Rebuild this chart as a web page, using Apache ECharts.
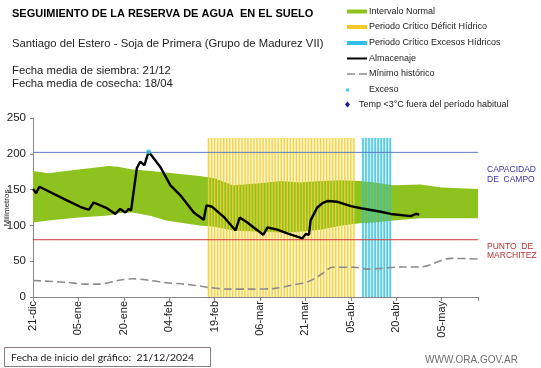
<!DOCTYPE html>
<html><head><meta charset="utf-8">
<script src="https://cdn.jsdelivr.net/npm/echarts@6/dist/echarts.min.js"></script>
<style>html,body{margin:0;padding:0;background:#fff}#c{width:541px;height:368px}</style>
</head><body><div id="c"></div>
<script>
// ---- data (x = days since 21-dic-2024) ----
const tickLabels = ['21-dic','05-ene','20-ene','04-feb','19-feb','06-mar','21-mar','05-abr','20-abr','05-may'];
const bandDays = [0,5,15,25,28,33,39,44,50,55,60,66,75,82,88,95,102,108,113,119,128,135,147];
const bandHigh = [176,173,178,183,182,178,176,174,171,169,166,156,159,162,160,162,163,162,160,156,157,153,151];
const bandLow  = [104,107,111,114,117,118,113,107,103,100,98,93,91,90,91,94,100,103,104,107,110,110,110];
const almaDays = [0,1,2.1,11.2,15.6,17.5,18.5,20,24.4,27.2,27.7,28.8,30.5,31.6,32.4,33,34.3,35.4,36.8,38.2,42,45.4,48.7,53.1,56.4,57.3,59.2,63,66.9,68.3,70.8,72.9,76.1,77.4,80.7,84,89,90.1,91.2,91.7,93.9,95.6,97.3,100.6,105,108.3,114.9,118.2,124.8,126.5,127.6];
const almaVals = [151,145,154,135,126,123,122,132,124,116,115,123,118,123,121,122,180,189,184,203,182,156,142,118,108,128,126,112,93,111,104,97,87,97,94,89,82,88,87,107,125,131,134,133,127,124,119,116,113,116,115];
const minDays = [0,11,17,22,28,33,39,44,50,55,57.5,65,71,80,86,91,95,99,106,110.5,115,121.5,128,138,147];
const minVals = [23,20.5,18,18,23,25.5,23,20,18,15.5,13.5,11,11,12,17,21.5,31,41.5,41.5,39,40,42,42,54,53];
const excesoDays = [38.2];
const excesoVals = [203];
const deficitDays = [58,59,60,61,62,63,64,65,66,67,68,69,70,71,72,73,74,75,76,77,78,79,80,81,82,83,84,85,86,87,88,89,90,91,92,93,94,95,96,97,98,99,100,101,102,103,104,105,106];
const excesoPerDays = [109,110,111,112,113,114,115,116,117,118];
const periodTop = 222;
const capacidadCampo = 202;
const puntoMarchitez = 80;
const axisEnd = 147;
const fechaInicio = '21/12/2024';

const pair = (xs, ys) => xs.map((x, i) => [x, ys[i]]);
const chart = echarts.init(document.getElementById('c'), null, {renderer: 'canvas'});
const F = 'Liberation Sans, Arial, sans-serif';
const lx = 347, tx = 369;
const rows = [11.5, 27, 43, 58.5, 74, 89.5, 104.5];
const txt = (x, y, s, font, fill) => ({type: 'text', style: {x: x, y: y, text: s, font: font, fill: fill, verticalAlign: 'middle', align: 'left'}});
const legText = (x, y, s) => txt(x, y, s, '9px ' + F, '#222');

function bandRender(params, api) {
  if (params.dataIndex !== 0) return null;
  const up = bandDays.map((d, i) => api.coord([d, bandHigh[i]]));
  const lo = bandDays.map((d, i) => api.coord([d, bandLow[i]])).reverse();
  return {type: 'polygon', shape: {points: up.concat(lo)}, style: {fill: '#8DC21F'}, silent: true};
}

chart.setOption({
  animation: false,
  grid: {left: 33, right: 63, top: 118, bottom: 71, containLabel: false, outerBoundsMode: 'none'},
  xAxis: {
    type: 'value', min: 0, max: axisEnd, interval: 15,
    axisLine: {lineStyle: {color: '#868686'}},
    axisTick: {show: true, length: 4, lineStyle: {color: '#868686'}},
    splitLine: {show: false},
    axisLabel: {rotate: 90, margin: 4, fontSize: 11, fontFamily: F, color: '#222',
      formatter: v => tickLabels[Math.round(v / 15)] || ''}
  },
  yAxis: {
    type: 'value', min: 0, max: 250, interval: 50,
    axisLine: {show: true, lineStyle: {color: '#868686'}},
    axisTick: {show: true, length: 3, lineStyle: {color: '#868686'}},
    splitLine: {show: false},
    axisLabel: {fontSize: 11.5, fontFamily: F, color: '#222', margin: 7}
  },
  series: [
    {type: 'custom', renderItem: bandRender, data: bandDays.map((d, i) => [d, bandLow[i], bandHigh[i]]),
     encode: {x: 0, y: [1, 2]}, z: 1, silent: true},
    {type: 'bar', data: deficitDays.map(d => [d, periodTop]), barWidth: 1.4, barGap: '-100%',
     itemStyle: {color: '#F2CF3A', opacity: 0.9}, z: 3,
     markArea: {silent: true, itemStyle: {color: 'rgba(250,232,150,0.45)'},
       data: [[{xAxis: deficitDays[0] - 0.5, yAxis: 0}, {xAxis: deficitDays[deficitDays.length - 1] + 0.5, yAxis: periodTop}]]}},
    {type: 'bar', data: excesoPerDays.map(d => [d, periodTop]), barWidth: 1.4, barGap: '-100%',
     itemStyle: {color: '#2FC0DD', opacity: 0.9}, z: 3,
     markArea: {silent: true, itemStyle: {color: 'rgba(170,225,240,0.5)'},
       data: [[{xAxis: excesoPerDays[0] - 0.5, yAxis: 0}, {xAxis: excesoPerDays[excesoPerDays.length - 1] + 0.5, yAxis: periodTop}]]}},
    {type: 'line', data: [[0, puntoMarchitez], [axisEnd, puntoMarchitez]], symbol: 'none', z: 5, silent: true,
     lineStyle: {color: '#D03A3A', width: 1}},
    {type: 'line', data: [[0, capacidadCampo], [axisEnd, capacidadCampo]], symbol: 'none', z: 5, silent: true,
     lineStyle: {color: '#5B7FC0', width: 1}},
    {type: 'line', data: pair(minDays, minVals), symbol: 'none', smooth: 0.3, z: 4,
     lineStyle: {color: '#8C8C8C', width: 1.6, type: [8, 4]}},
    {type: 'line', data: pair(almaDays, almaVals), symbol: 'none', z: 6,
     lineStyle: {color: '#000', width: 2.4}},
    {type: 'scatter', data: pair(excesoDays, excesoVals), symbol: 'circle', symbolSize: 5,
     itemStyle: {color: '#3CCBEA'}, z: 7}
  ],
  graphic: [
    txt(12, 14, 'SEGUIMIENTO DE LA RESERVA DE AGUA  EN EL SUELO', 'bold 11px ' + F, '#000'),
    txt(12, 44, 'Santiago del Estero - Soja de Primera (Grupo de Madurez VII)', '11.3px ' + F, '#222'),
    txt(12, 71, 'Fecha media de siembra: 21/12', '11.3px ' + F, '#222'),
    txt(12, 83.5, 'Fecha media de cosecha: 18/04', '11.3px ' + F, '#222'),
    {type: 'text', x: 7, y: 208, rotation: Math.PI / 2,
     style: {text: 'Milímetros', font: '8px ' + F, fill: '#222', align: 'center', verticalAlign: 'middle'}},
    {type: 'rect', shape: {x: lx, y: rows[0] - 2, width: 20, height: 4}, style: {fill: '#8DC21F'}},
    {type: 'rect', shape: {x: lx, y: rows[1] - 2, width: 20, height: 4}, style: {fill: '#F5C928'}},
    {type: 'rect', shape: {x: lx, y: rows[2] - 2, width: 20, height: 4}, style: {fill: '#2FC0E8'}},
    {type: 'line', shape: {x1: lx, y1: rows[3], x2: lx + 20, y2: rows[3]}, style: {stroke: '#000', lineWidth: 2}},
    {type: 'line', shape: {x1: lx, y1: rows[4], x2: lx + 20, y2: rows[4]}, style: {stroke: '#8C8C8C', lineWidth: 1.5, lineDash: [8, 4]}},
    {type: 'rect', shape: {x: lx - 1, y: rows[5] - 1, width: 3, height: 3}, style: {fill: '#3CCBEA'}},
    {type: 'polygon', shape: {points: [[lx + 0.5, rows[6] - 3], [lx + 3, rows[6]], [lx + 0.5, rows[6] + 3], [lx - 2, rows[6]]]}, style: {fill: '#1A1A9A'}},
    legText(tx, rows[0], 'Intervalo Normal'),
    legText(tx, rows[1], 'Periodo Crítico Déficit Hídrico'),
    legText(tx, rows[2], 'Periodo Crítico Excesos Hídricos'),
    legText(tx, rows[3], 'Almacenaje'),
    legText(tx, rows[4], 'Mínimo histórico'),
    legText(tx, rows[5], 'Exceso'),
    legText(359, rows[6], 'Temp <3°C fuera del período habitual'),
    txt(487, 170, 'CAPACIDAD', '8.5px ' + F, '#3535A8'),
    txt(487, 179.5, 'DE  CAMPO', '8.5px ' + F, '#3535A8'),
    txt(487, 246.5, 'PUNTO  DE', '8.5px ' + F, '#B83030'),
    txt(487, 256, 'MARCHITEZ', '8.5px ' + F, '#B83030'),
    {type: 'rect', shape: {x: 4.5, y: 347.5, width: 206, height: 19}, style: {fill: '#fff', stroke: '#8B7B7B', lineWidth: 1}},
    txt(11, 357.5, 'Fecha de inicio del gráfico:  ' + fechaInicio, '10.4px Lato, ' + F, '#222'),
    txt(425, 360.5, 'WWW.ORA.GOV.AR', '10px ' + F, '#707070')
  ]
});
</script></body></html>
